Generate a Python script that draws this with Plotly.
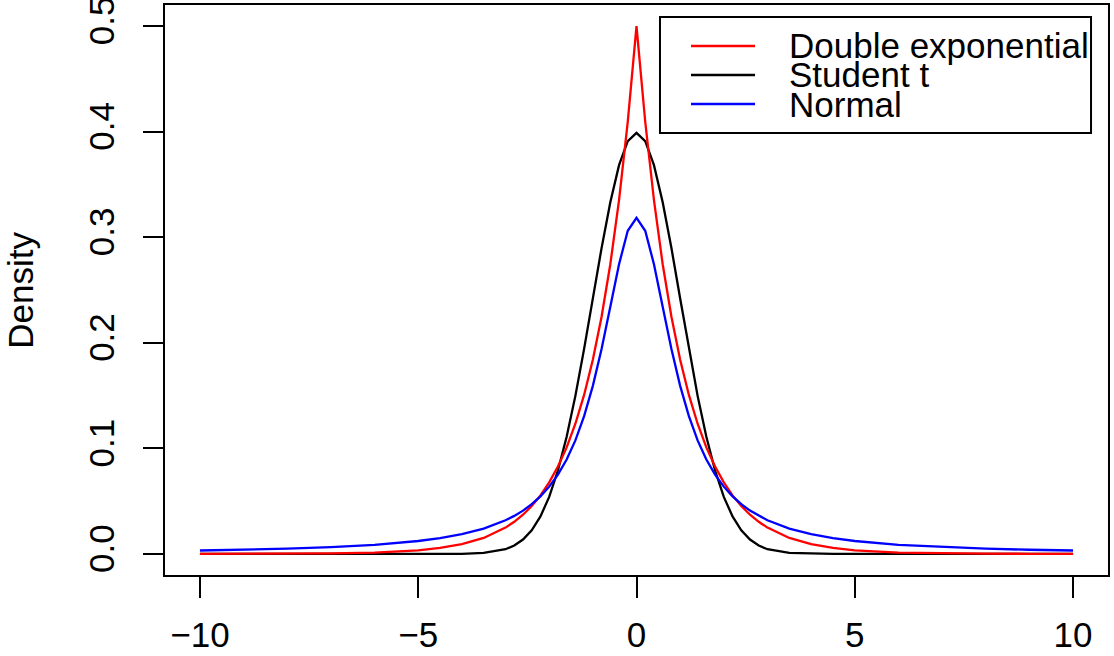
import plotly.graph_objects as go

# x positions of the sampled curves (finer grid near the centre)
x_vals = [-10, -9, -8, -7, -6, -5, -4.5, -4, -3.5,
          -3.0, -2.8, -2.6, -2.4, -2.2, -2.0, -1.8, -1.6, -1.4, -1.2, -1.0,
          -0.8, -0.6, -0.4, -0.2, 0.0, 0.2, 0.4, 0.6, 0.8, 1.0,
          1.2, 1.4, 1.6, 1.8, 2.0, 2.2, 2.4, 2.6, 2.8, 3.0,
          3.5, 4, 4.5, 5, 6, 7, 8, 9, 10]

# density values
double_exp = [0.0000, 0.0001, 0.0002, 0.0005, 0.0012, 0.0034, 0.0056, 0.0092, 0.0151,
              0.0249, 0.0304, 0.0371, 0.0454, 0.0554, 0.0677, 0.0827, 0.1009, 0.1233, 0.1506, 0.1839,
              0.2247, 0.2744, 0.3352, 0.4094, 0.5000, 0.4094, 0.3352, 0.2744, 0.2247, 0.1839,
              0.1506, 0.1233, 0.1009, 0.0827, 0.0677, 0.0554, 0.0454, 0.0371, 0.0304, 0.0249,
              0.0151, 0.0092, 0.0056, 0.0034, 0.0012, 0.0005, 0.0002, 0.0001, 0.0000]

student_t = [0.0000, 0.0000, 0.0000, 0.0000, 0.0000, 0.0000, 0.0000, 0.0001, 0.0009,
             0.0044, 0.0079, 0.0136, 0.0224, 0.0355, 0.0540, 0.0790, 0.1109, 0.1497, 0.1942, 0.2420,
             0.2897, 0.3332, 0.3683, 0.3910, 0.3989, 0.3910, 0.3683, 0.3332, 0.2897, 0.2420,
             0.1942, 0.1497, 0.1109, 0.0790, 0.0540, 0.0355, 0.0224, 0.0136, 0.0079, 0.0044,
             0.0009, 0.0001, 0.0000, 0.0000, 0.0000, 0.0000, 0.0000, 0.0000, 0.0000]

normal = [0.0032, 0.0039, 0.0049, 0.0064, 0.0086, 0.0122, 0.0150, 0.0187, 0.0240,
          0.0318, 0.0360, 0.0410, 0.0471, 0.0545, 0.0637, 0.0751, 0.0894, 0.1075, 0.1305, 0.1592,
          0.1941, 0.2341, 0.2744, 0.3061, 0.3183, 0.3061, 0.2744, 0.2341, 0.1941, 0.1592,
          0.1305, 0.1075, 0.0894, 0.0751, 0.0637, 0.0545, 0.0471, 0.0410, 0.0360, 0.0318,
          0.0240, 0.0187, 0.0150, 0.0122, 0.0086, 0.0064, 0.0049, 0.0039, 0.0032]

legend_labels = ["Double exponential", "Student t", "Normal"]
legend_colors = ["red", "black", "blue"]

x_ticks = [-10, -5, 0, 5, 10]
y_ticks = [0.0, 0.1, 0.2, 0.3, 0.4, 0.5]

FONT = "Liberation Sans, Arial, sans-serif"
LW = 2.3

fig = go.Figure()

# drawing order: black, red, blue
fig.add_trace(go.Scatter(x=x_vals, y=student_t, mode="lines", name=legend_labels[1],
                         line=dict(color="black", width=LW)))
fig.add_trace(go.Scatter(x=x_vals, y=double_exp, mode="lines", name=legend_labels[0],
                         line=dict(color="red", width=LW)))
fig.add_trace(go.Scatter(x=x_vals, y=normal, mode="lines", name=legend_labels[2],
                         line=dict(color="blue", width=LW)))

# hand-drawn legend box, R style (tight rows)
shapes = [dict(type="rect", xref="paper", yref="paper",
               x0=0.5249, x1=0.9820, y0=0.7754, y1=0.9789,
               line=dict(color="black", width=2), fillcolor="white", layer="above")]
annotations = []
row_y = [0.9281, 0.8772, 0.8263]
for lab, col, yy in zip(legend_labels, legend_colors, row_y):
    shapes.append(dict(type="line", xref="paper", yref="paper",
                       x0=0.5578, x1=0.6257, y0=yy, y1=yy,
                       line=dict(color=col, width=LW), layer="above"))
    annotations.append(dict(text=lab, xref="paper", yref="paper", x=0.6596, y=yy,
                            xanchor="left", yanchor="middle", showarrow=False,
                            font=dict(family=FONT, size=35, color="black")))

annotations.append(dict(text="Density", xref="paper", yref="paper", x=-0.154, y=0.5,
                        xanchor="center", yanchor="middle", textangle=-90, showarrow=False,
                        font=dict(family=FONT, size=35, color="black")))

fig.update_layout(
    width=1114, height=656,
    margin=dict(l=165, r=6, t=5, b=81),
    paper_bgcolor="white", plot_bgcolor="white",
    showlegend=False,
    font=dict(family=FONT, size=35, color="black"),
    shapes=shapes,
    annotations=annotations,
    xaxis=dict(range=[-10.8, 10.8], tickvals=x_ticks, ticktext=["\u221210", "\u22125", "0", "5", "10"],
               showgrid=False, zeroline=False, showline=True, mirror=True, automargin=False,
               linecolor="black", linewidth=2, ticks="outside", ticklen=21, tickwidth=2,
               tickcolor="black", tickfont=dict(size=35), ticklabeloverflow="allow",
               ticklabelstandoff=7),
    yaxis=dict(range=[-0.02, 0.52], tickvals=y_ticks, tickformat=".1f", tickangle=-90,
               showgrid=False, zeroline=False, showline=True, mirror=True, automargin=False,
               linecolor="black", linewidth=2, ticks="outside", ticklen=20, tickwidth=2,
               tickcolor="black", tickfont=dict(size=35), ticklabeloverflow="allow",
               ticklabelstandoff=15),
)

# drop the default page margin so the figure sits at the window's corner
fig.write_html("out.html", config={"displayModeBar": False},
               post_script="document.body.style.margin='0px';")
